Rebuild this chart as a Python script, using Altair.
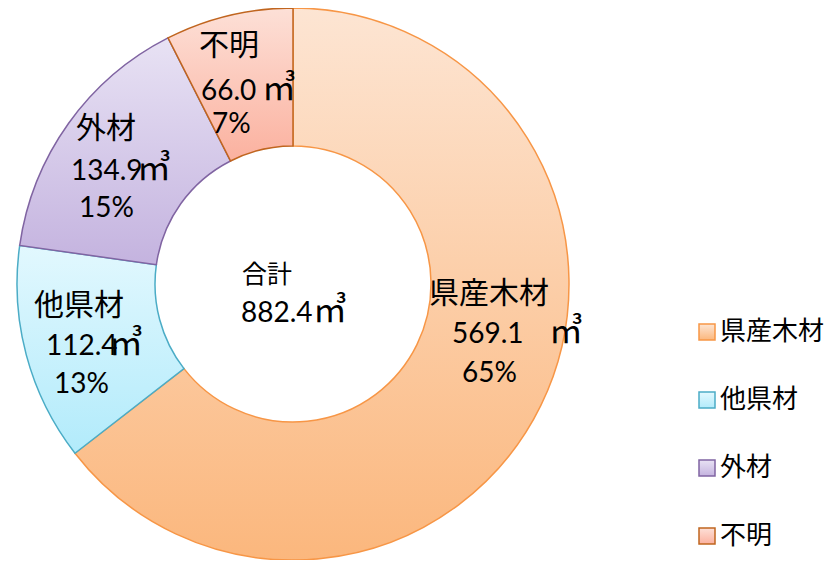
import altair as alt
import pandas as pd

cats = ["県産木材", "他県材", "外材", "不明"]
vols = [569.1, 112.4, 134.9, 66.0]
vol_labels = ["569.1", "112.4", "134.9", "66.0"]
pcts = ["65%", "13%", "15%", "7%"]
total_name = "合計"
total_label = "882.4"
unit = "㎥"

fill_top = ["#fde5d3", "#e2f8fe", "#e8e2f4", "#fde0d7"]
fill_bottom = ["#fbb77d", "#b2ebfb", "#c4b3df", "#fbb19f"]
stroke_cols = ["#f79646", "#4bacc6", "#8064a2", "#c0651f"]

df = pd.DataFrame({
    "cat": cats,
    "vol": vols,
    "vlab": vol_labels,
    "pct": pcts,
    "ord": list(range(len(cats))),
    "unit": [unit] * len(cats),
})


def grad(top, bottom):
    return {"expr": "{gradient:'linear',x1:0,y1:0,x2:0,y2:1,stops:[{offset:0,color:'%s'},{offset:1,color:'%s'}]}" % (top, bottom)}


fill_range = [grad(t, b) for t, b in zip(fill_top, fill_bottom)]

CX, CY = 285, 276
CJK = "Noto Sans CJK JP"
LAT = "Lato"

legend = alt.Legend(
    title=None, orient="none", legendX=686, legendY=311, symbolType="square",
    symbolSize=256, symbolStrokeWidth=1.5, labelFont=CJK, labelFontSize=26,
    labelColor="#000000", rowPadding=42, labelOffset=0, padding=0, labelLimit=300,
)

donut = alt.Chart(df).mark_arc(innerRadius=138, outerRadius=276, strokeWidth=1.5).encode(
    theta=alt.Theta("vol:Q", stack=True),
    order=alt.Order("ord:Q"),
    fill=alt.Fill("cat:N", scale=alt.Scale(domain=cats, range=fill_range), legend=legend),
    stroke=alt.Stroke("cat:N", scale=alt.Scale(domain=cats, range=stroke_cols), legend=legend),
    x=alt.value(CX),
    y=alt.value(CY),
)

# label placement (chart coords): name, number, unit, percent
pos = {
    "不明":   dict(n=(191, 47), v=(193, 92), u=(254, 92), p=(204, 125)),
    "外材":   dict(n=(68, 130), v=(63, 172), u=(129, 172), p=(71, 209)),
    "他県材": dict(n=(26, 307), v=(38, 347), u=(101, 347), p=(46, 385)),
    "県産木材": dict(n=(421, 295), v=(444, 335), u=(541, 335), p=(454, 374)),
}

layers = [donut]
for c in cats:
    p = pos[c]
    base = alt.Chart(df).transform_filter(alt.datum.cat == c)
    layers.append(base.mark_text(align="left", baseline="alphabetic", font=CJK, fontSize=30,
                                 color="#000000", x=p["n"][0], y=p["n"][1]).encode(text="cat:N"))
    layers.append(base.mark_text(align="left", baseline="alphabetic", font=LAT, fontSize=28,
                                 color="#000000", x=p["v"][0], y=p["v"][1]).encode(text="vlab:N"))
    layers.append(base.mark_text(align="left", baseline="alphabetic", font=CJK, fontSize=34,
                                 color="#000000", x=p["u"][0], y=p["u"][1]).encode(text="unit:N"))
    layers.append(base.mark_text(align="left", baseline="alphabetic", font=LAT, fontSize=28,
                                 color="#000000", x=p["p"][0], y=p["p"][1]).encode(text="pct:N"))

tot = pd.DataFrame({"name": [total_name], "val": [total_label], "unit": [unit]})
layers.append(alt.Chart(tot).mark_text(align="left", baseline="alphabetic", font=CJK, fontSize=25,
                                       color="#000000", x=234, y=275).encode(text="name:N"))
layers.append(alt.Chart(tot).mark_text(align="left", baseline="alphabetic", font=LAT, fontSize=28,
                                       color="#000000", x=233, y=314).encode(text="val:N"))
layers.append(alt.Chart(tot).mark_text(align="left", baseline="alphabetic", font=CJK, fontSize=34,
                                       color="#000000", x=305, y=314).encode(text="unit:N"))

chart = alt.layer(*layers).properties(
    width=818, height=552, padding=0, autosize=alt.AutoSizeParams(type="none")
).configure_view(stroke=None)

chart.save("out.html", embed_options={"renderer": "svg", "actions": False})
